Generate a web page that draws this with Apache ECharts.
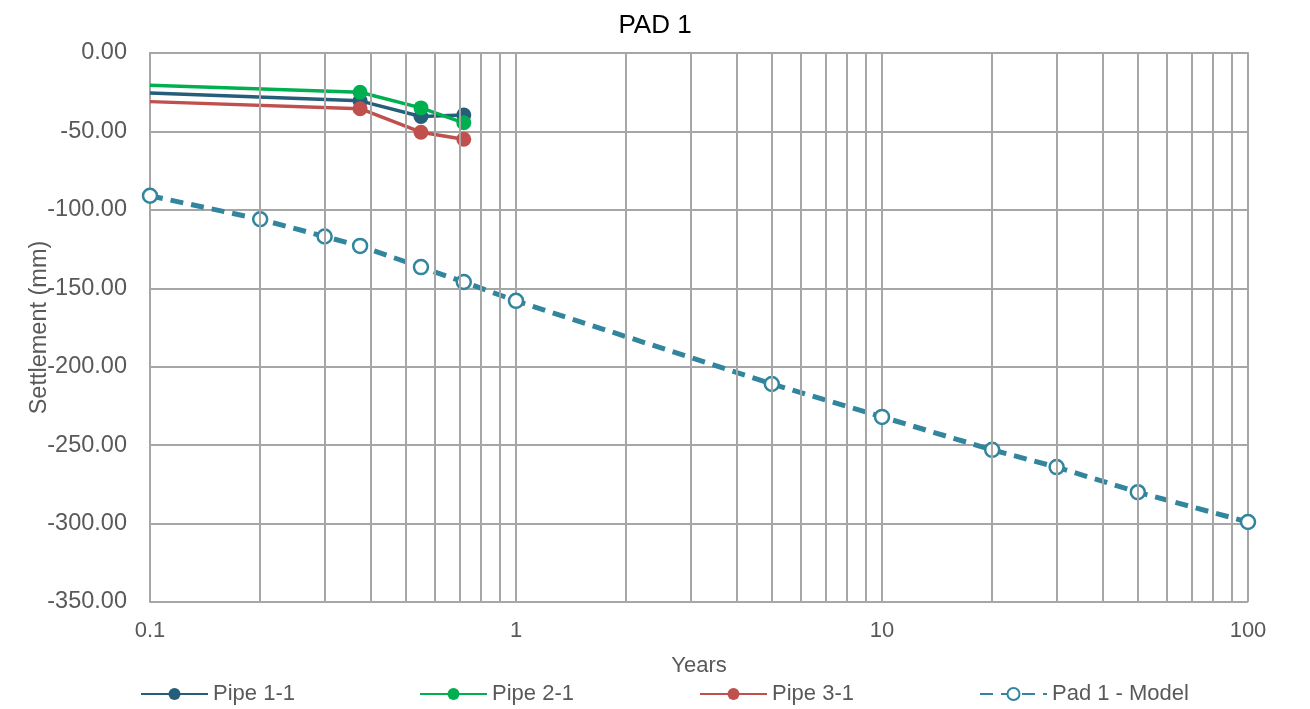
<!DOCTYPE html>
<html>
<head>
<meta charset="utf-8">
<script src="https://cdn.jsdelivr.net/npm/echarts@6/dist/echarts.min.js"></script>
<style>
  html, body { margin: 0; padding: 0; background: #fff; }
  #chart { width: 1310px; height: 709px; }
</style>
</head>
<body>
<div id="chart"></div>
<script>
// measurement times (years) and settlements (mm)
const pipeYears = [0.1, 0.375, 0.55, 0.72];
const pipe11 = [-25.5, -30.5, -40.5, -39.5];
const pipe21 = [-20.5, -25, -35, -44.5];
const pipe31 = [-31, -35.5, -50.5, -55];

const modelYears = [0.1, 0.2, 0.3, 0.375, 0.55, 0.72, 1, 5, 10, 20, 30, 50, 100];
const modelSettle = [-91, -106, -117, -123, -136.5, -146, -158, -211, -232, -253, -264, -280, -299];

const minorGrid = [0.2, 0.3, 0.4, 0.5, 0.6, 0.7, 0.8, 0.9, 2, 3, 4, 5, 6, 7, 8, 9, 20, 30, 40, 50, 60, 70, 80, 90];

const GRID = '#A6A6A6';
const TXT = '#595959';
const FONT = 'Liberation Sans, Arial, sans-serif';

const chart = echarts.init(document.getElementById('chart'));

// first pipe point sits on the axis edge without a marker
const pipeData = vals => pipeYears.map((x, i) => i === 0
  ? { value: [x, vals[i]], symbolSize: 0 }
  : [x, vals[i]]);

const pipeSeries = (name, vals, color) => ({
  name,
  type: 'line',
  data: pipeData(vals),
  symbol: 'circle',
  symbolSize: 15,
  color,
  lineStyle: { width: 3.5, color },
  itemStyle: { color },
  z: 3
});

const legendItem = (name, left) => ({
  data: [name],
  left,
  top: 678,
  itemWidth: 67,
  itemHeight: 15,
  itemGap: 5,
  textStyle: { fontSize: 22, color: TXT, fontFamily: FONT }
});

chart.setOption({
  animation: false,
  backgroundColor: '#fff',
  title: {
    text: 'PAD 1',
    left: 'center',
    top: 8,
    textStyle: { fontSize: 26, fontWeight: 'normal', color: '#000', fontFamily: FONT }
  },
  legend: [
    legendItem('Pipe 1-1', 135),
    legendItem('Pipe 2-1', 414),
    legendItem('Pipe 3-1', 694),
    legendItem('Pad 1 - Model', 974)
  ],
  grid: { left: 150, right: 62, top: 53, bottom: 107, containLabel: false },
  xAxis: {
    type: 'log',
    logBase: 10,
    min: 0.1,
    max: 100,
    name: 'Years',
    nameLocation: 'middle',
    nameGap: 53,
    nameMoveOverlap: false,
    nameTextStyle: { fontSize: 22, color: TXT, fontFamily: FONT },
    axisLine: { show: true, lineStyle: { color: GRID, width: 2 } },
    axisTick: { show: false },
    axisLabel: {
      fontSize: 22, color: TXT, fontFamily: FONT, margin: 18,
      formatter: v => String(+v.toPrecision(3))
    },
    splitLine: { show: true, lineStyle: { color: GRID, width: 2 } }
  },
  yAxis: {
    type: 'value',
    min: -350,
    max: 0,
    interval: 50,
    name: 'Settlement (mm)',
    nameLocation: 'middle',
    nameGap: 98,
    nameMoveOverlap: false,
    nameTextStyle: { fontSize: 23.5, color: TXT, fontFamily: FONT },
    axisLine: { show: true, lineStyle: { color: GRID, width: 2 } },
    axisTick: { show: false },
    axisLabel: {
      fontSize: 23.5, color: TXT, fontFamily: FONT, margin: 23,
      formatter: v => v.toFixed(2)
    },
    splitLine: { show: true, lineStyle: { color: GRID, width: 2 } }
  },
  series: [
    pipeSeries('Pipe 1-1', pipe11, '#255E79'),
    pipeSeries('Pipe 2-1', pipe21, '#00B050'),
    pipeSeries('Pipe 3-1', pipe31, '#C0504D'),
    {
      name: 'Pad 1 - Model',
      type: 'line',
      data: modelYears.map((x, i) => [x, modelSettle[i]]),
      symbol: 'circle',
      symbolSize: 14,
      color: '#31859C',
      lineStyle: { width: 5, color: '#31859C', type: [13, 8] },
      itemStyle: { color: '#fff', borderColor: '#31859C', borderWidth: 2.5 },
      z: 3
    },
    {
      // minor log grid lines
      name: 'minor',
      type: 'line',
      data: [],
      silent: true,
      z: 1,
      markLine: {
        silent: true,
        symbol: 'none',
        label: { show: false },
        animation: false,
        lineStyle: { color: GRID, width: 2, type: 'solid' },
        data: minorGrid.map(x => ({ xAxis: x }))
      }
    }
  ]
});
</script>
</body>
</html>
